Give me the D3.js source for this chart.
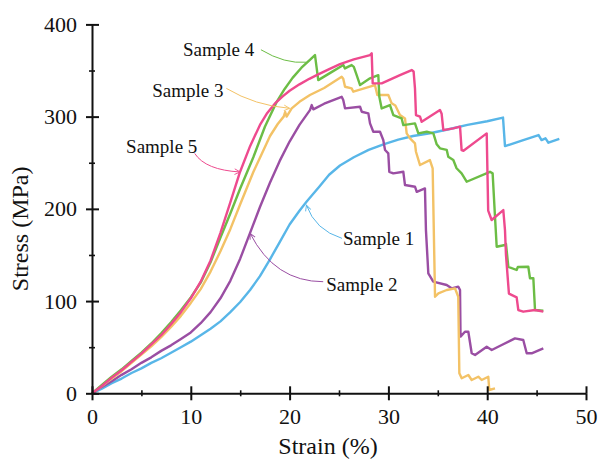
<!DOCTYPE html>
<html>
<head>
<meta charset="utf-8">
<script src="https://cdn.jsdelivr.net/npm/d3@7"></script>
<style>
  body { margin: 0; background: #fff; }
  svg text { font-family: "Liberation Serif", "Times New Roman", serif; fill: #111; }
  .axis .domain, .axis line { stroke: #111; stroke-width: 2; }
  .minor line { stroke-width: 1.6; }
</style>
</head>
<body>
<div id="chart"></div>
<script>
(function () {

  // stress-strain data, [strain %, stress MPa]
  var sample1 = [[0,0],[1,5],[2,11],[3,16],[4,22],[5,27],[6,33],[7,38],[8,44],[9,50],[10,56],
    [11,63],[12,70],[13,78],[14,88],[15,99],[16,112],[17,127],[18,145],[19,164],[20,183],
    [21,198],[21.73,208],[23,224],[24,237],[25.1,247],[26.5,256],[28,264],[29.5,270],[31,275],
    [32.5,279],[34.2,282],[36,286],[38,291],[40,295],[41.6,299],[41.8,268],[43.5,274],[45.2,280],
    [45.5,274.6],[45.9,276.5],[46.2,271.7],[47.3,276]]

  var sample2 = [[0,0],[1,7],[2,13],[3,20],[4,26],[5,33],[6,39],[7,46],[8,52],[9,59],[10,66],
    [11,76],[12,88],[13,103],[14,122],[15,146],[16,174],[17,202],[18,228],[19,252],[20,273],
    [21,291],[22.06,307],[22.24,312.5],[22.4,307.9],[23.5,314],[25.27,321.5],[25.43,318],
    [25.61,309],[27.13,310.7],[27.3,305.3],[27.97,303.5],[28.14,292.7],[28.47,283.6],[29.15,283.6],
    [29.48,274.6],[29.66,263.8],[29.99,260.2],[30.09,240.2],[30.5,238.5],[31.51,240.2],[31.68,225.8],
    [32.69,224],[32.87,218.5],[33.7,222.2],[33.8,177],[34.04,130],[34.54,121],[35.9,117.4],
    [36.4,113.8],[37.07,115.6],[37.25,112],[37.3,61.4],[37.75,66.8],[38.09,66.8],[38.43,43.4],
    [38.77,41.5],[39.95,50.5],[40.46,46.9],[41.47,52.4],[42.81,59.6],[43.65,57.8],[44,43.4],
    [44.5,43.4],[45.68,48.8]]

  var sample3 = [[0,0],[1,8],[2,16],[3,24],[4,33],[5,42],[6,51],[7,61],[8,72],[9,84],[10,98],
    [11,113],[12,132],[13,154],[14,178],[15,205],[16.33,240],[17.2,260],[18.02,279],[18.8,292],
    [19.4,300],[19.55,305],[19.7,300],[20.21,309],[21,316],[22.06,323.4],[23.5,331],[25.27,343.2],
    [25.43,341],[25.61,332.4],[26.28,330.6],[26.45,327],[28.64,334.2],[28.88,323.4],[29.99,323.4],
    [30.33,314.4],[30.7,312],[31.17,301.7],[31.68,298],[31.85,281.8],[32.19,276.4],[32.69,271],
    [32.79,261.9],[33.2,247.5],[34.2,252.9],[34.48,243.9],[34.72,104.7],[35.06,108.4],[35.9,112],
    [36.74,113.8],[37.07,104.7],[37.18,21.7],[37.42,16.3],[38.09,19.8],[38.43,14.4],[39.1,18],
    [39.44,14.4],[40.11,18],[40.21,3.6],[40.79,5.4]]

  var sample4 = [[0,0],[1,9],[2,18],[3,26],[4,35],[5,44],[6,54],[7,65],[8,77],[9,90],[10,104],
    [11,120],[12,142],[13,169],[14,195],[15,222],[16.33,256],[17.5,289],[18.69,316],[19.5,330],
    [20.3,342],[21.2,353],[22,361],[22.57,366.7],[22.9,339.6],[24.2,348],[25.44,355.9],[25.6,352.3],
    [25.9,354],[26.28,355.9],[26.5,354],[26.79,345],[27.13,334.2],[28.14,341.5],[28.98,345],
    [29.08,321.5],[29.32,308.9],[30.16,312.5],[30.5,301.7],[31.34,298],[31.51,290.8],[32.69,292.7],
    [33.03,281.8],[33.88,283.6],[34.55,281.8],[34.89,270],[35.22,265.6],[35.9,264],[36.06,256.5],
    [36.57,252.9],[36.9,244],[37.41,238.5],[37.92,229.4],[40.28,240.2],[40.55,238.5],[40.79,191.4],
    [40.96,158.9],[41.8,160.8],[41.9,162],[42.14,137.2],[42.98,133.7],[43.1,137],[44.16,137.2],
    [44.33,124.7],[44.67,124.7],[44.84,90.3],[45.68,89.5]]

  var sample5 = [[0,0],[1,8],[2,17],[3,25],[4,34],[5,43],[6,53],[7,63],[8,75],[9,88],[10,103],
    [11,121],[12,144],[13,174],[14,207],[14.98,240],[16,268],[17,291],[17.68,303],[18.5,314],
    [19.3,322],[20,328],[21,335],[22,341],[22.74,345],[23.9,351],[25.1,357],[26.5,362],[28.14,366.7],
    [28.31,368.6],[28.41,336],[29.32,336],[31.17,345],[32.36,350.5],[32.55,349],[32.69,330.6],
    [32.79,301.7],[33.2,299.9],[33.37,294.4],[35.22,307.1],[35.39,303],[35.56,285.4],[36.57,287.3],
    [37.25,289.1],[37.41,263.7],[37.6,263],[39.95,281.8],[40.1,198],[40.45,187.9],[41.63,198.7],
    [41.8,177],[41.9,150],[42.2,108],[42.98,104],[43.15,90.3],[43.65,88.5],[44.84,90.3],[45.68,88.5]]

  var series = [sample1, sample2, sample3, sample4, sample5]
  var names = ['Sample 1', 'Sample 2', 'Sample 3', 'Sample 4', 'Sample 5']
  var colors = ['#58b6e8', '#9a4ea3', '#f3c266', '#6cbd45', '#ee4a8e']

  var xTicks = [0, 10, 20, 30, 40, 50]
  var xMinor = [5, 15, 25, 35, 45]
  var yTicks = [0, 100, 200, 300, 400]
  var yMinor = [50, 150, 250, 350]

  // label anchor, leader start, bend, end (data units)
  var labelAt = [[25.4, 160.8], [23.7, 111], [6.1, 321.5], [9.2, 365.6], [3.45, 261]]
  var leadFrom = [[25.3, 168], [23.4, 121], [13.6, 330.6], [17.1, 372.5], [10.4, 260]]
  var leadBend = [[22.6, 177], [18.5, 121], [16.5, 312], [19.5, 357], [11.5, 242]]
  var leadTo = [[21.7, 204], [16.0, 173.4], [20.0, 309], [21.7, 359], [15.0, 240]]

  var margin = { top: 24.4, right: 12, bottom: 65.7, left: 92 }
  var width = 598 - margin.left - margin.right,
      height = 459 - margin.top - margin.bottom

  var svg = d3.select('#chart').append('svg')
    .attr('width', width + margin.left + margin.right)
    .attr('height', height + margin.top + margin.bottom)
    .append('g')
    .attr('transform', 'translate(' + margin.left + ',' + margin.top + ')')

  var xPositionScale = d3.scaleLinear().domain([0, 50]).range([0, width])
  var yPositionScale = d3.scaleLinear().domain([0, 400]).range([height, 0])

  var defs = svg.append('defs')
  colors.forEach(function (c, i) {
    defs.append('marker')
      .attr('id', 'arrow' + i)
      .attr('viewBox', '0 0 10 10')
      .attr('refX', 9).attr('refY', 5)
      .attr('markerWidth', 7).attr('markerHeight', 7)
      .attr('markerUnits', 'userSpaceOnUse')
      .attr('orient', 'auto')
      .append('path')
      .attr('d', 'M1,1 L9,5 L1,9')
      .attr('fill', 'none')
      .attr('stroke', c)
      .attr('stroke-width', 1.3)
  })

  var line = d3.line()
    .x(function (d) { return xPositionScale(d[0]) })
    .y(function (d) { return yPositionScale(d[1]) })

  // blue first so the others sit on top like the original
  svg.selectAll('.curve')
    .data(series)
    .enter().append('path')
    .attr('class', 'curve')
    .attr('d', line)
    .attr('fill', 'none')
    .attr('stroke', function (d, i) { return colors[i] })
    .attr('stroke-width', 2.4)
    .attr('stroke-linejoin', 'round')

  // leaders
  svg.selectAll('.leader')
    .data(names)
    .enter().append('path')
    .attr('class', 'leader')
    .attr('d', function (d, i) {
      var p = d3.path()
      p.moveTo(xPositionScale(leadFrom[i][0]), yPositionScale(leadFrom[i][1]))
      p.quadraticCurveTo(xPositionScale(leadBend[i][0]), yPositionScale(leadBend[i][1]),
        xPositionScale(leadTo[i][0]), yPositionScale(leadTo[i][1]))
      return p.toString()
    })
    .attr('fill', 'none')
    .attr('stroke', function (d, i) { return colors[i] })
    .attr('stroke-width', 1)
    .attr('marker-end', function (d, i) { return i === 3 ? null : 'url(#arrow' + i + ')' })

  svg.selectAll('.label')
    .data(names)
    .enter().append('text')
    .attr('class', 'label')
    .attr('x', function (d, i) { return xPositionScale(labelAt[i][0]) })
    .attr('y', function (d, i) { return yPositionScale(labelAt[i][1]) })
    .style('font-size', '19px')
    .text(function (d) { return d })

  // axes, ticks cross the axis line
  var yAxis = d3.axisLeft(yPositionScale).tickValues(yTicks).tickSize(6).tickSizeOuter(0).tickPadding(9)
  svg.append('g').attr('class', 'axis y-axis').call(yAxis)
    .style('font-size', '22px')
  svg.append('g').attr('class', 'axis').call(
    d3.axisRight(yPositionScale).tickValues(yTicks).tickSize(7).tickFormat(''))
    .select('.domain').remove()
  svg.append('g').attr('class', 'axis minor').call(
    d3.axisLeft(yPositionScale).tickValues(yMinor).tickSize(3).tickFormat(''))
    .select('.domain').remove()
  svg.append('g').attr('class', 'axis minor').call(
    d3.axisRight(yPositionScale).tickValues(yMinor).tickSize(3).tickFormat(''))
    .select('.domain').remove()

  var xAxis = d3.axisBottom(xPositionScale).tickValues(xTicks).tickSize(7).tickSizeOuter(0).tickPadding(8)
  svg.append('g').attr('class', 'axis x-axis')
    .attr('transform', 'translate(0,' + height + ')')
    .call(xAxis)
    .style('font-size', '22px')
  svg.append('g').attr('class', 'axis')
    .attr('transform', 'translate(0,' + height + ')')
    .call(d3.axisTop(xPositionScale).tickValues(xTicks).tickSize(7).tickFormat(''))
    .select('.domain').remove()
  svg.append('g').attr('class', 'axis minor')
    .attr('transform', 'translate(0,' + height + ')')
    .call(d3.axisBottom(xPositionScale).tickValues(xMinor).tickSize(3).tickFormat(''))
    .select('.domain').remove()
  svg.append('g').attr('class', 'axis minor')
    .attr('transform', 'translate(0,' + height + ')')
    .call(d3.axisTop(xPositionScale).tickValues(xMinor).tickSize(3).tickFormat(''))
    .select('.domain').remove()

  svg.selectAll('.axis text').attr('fill', '#111').style('font-family', '"Liberation Serif", "Times New Roman", serif')

  svg.append('text')
    .attr('x', 236)
    .attr('y', height + 61)
    .attr('text-anchor', 'middle')
    .style('font-size', '24px')
    .text('Strain (%)')

  svg.append('text')
    .attr('transform', 'translate(-64,' + (height / 2 + 20) + ') rotate(-90)')
    .attr('text-anchor', 'middle')
    .style('font-size', '24px')
    .text('Stress (MPa)')

})()
</script>
</body>
</html>
